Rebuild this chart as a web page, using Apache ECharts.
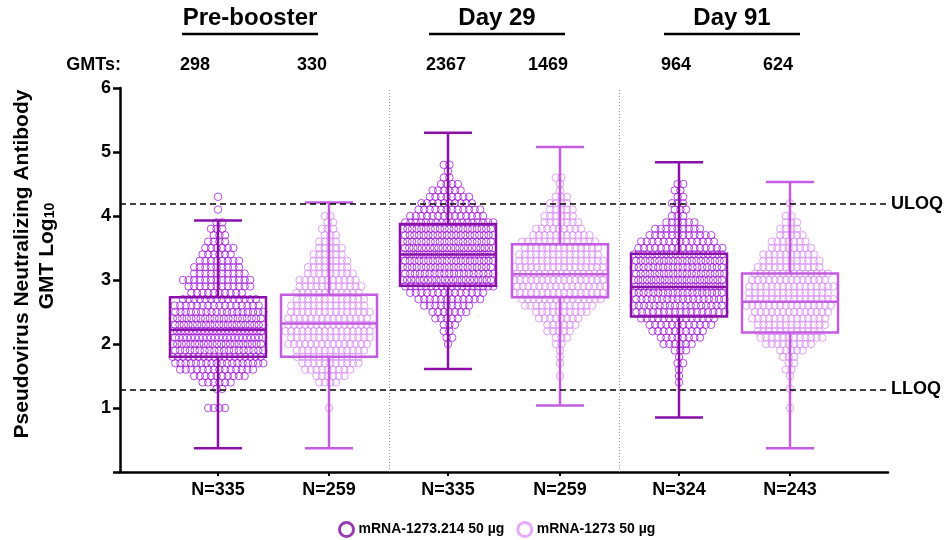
<!DOCTYPE html>
<html>
<head>
<meta charset="utf-8">
<title>Pseudovirus neutralizing antibody GMT</title>
<script src="https://cdn.jsdelivr.net/npm/echarts@6/dist/echarts.min.js"></script>
<style>
  html, body { margin: 0; padding: 0; background: #fff; }
  #chart { width: 947px; height: 540px; }
</style>
</head>
<body>
<div id="chart"></div>
<script>
// log10 titre levels the dots sit on (0.1 wide rows)
const levels = [1.0, 1.1, 1.2, 1.3, 1.4, 1.5, 1.6, 1.7, 1.8, 1.9,
  2.0, 2.1, 2.2, 2.3, 2.4, 2.5, 2.6, 2.7, 2.8, 2.9,
  3.0, 3.1, 3.2, 3.3, 3.4, 3.5, 3.6, 3.7, 3.8, 3.9,
  4.0, 4.1, 4.2, 4.3, 4.4, 4.5, 4.6, 4.7, 4.8, 4.9]

// participants per row
const preDark = [4, 0, 0, 2, 6, 10, 14, 18, 18, 19, 21, 23, 23, 21, 20, 18, 16, 14, 10, 12,
  13, 10, 9, 8, 6, 6, 4, 3, 3, 2, 0, 1, 0, 1, 0, 0, 0, 0, 0, 0]
const preLight = [1, 0, 0, 0, 4, 6, 9, 11, 12, 13, 15, 15, 16, 16, 15, 15, 14, 13, 12, 12,
  11, 9, 8, 7, 6, 5, 4, 3, 3, 2, 2, 0, 0, 0, 0, 0, 0, 0, 0, 0]
const d29Dark = [0, 0, 0, 0, 0, 0, 0, 0, 0, 0, 1, 2, 2, 3, 5, 7, 9, 12, 14, 18,
  22, 19, 20, 20, 22, 22, 20, 20, 20, 18, 14, 12, 10, 8, 6, 4, 2, 1, 2, 0]
const d29Light = [0, 0, 0, 0, 0, 1, 0, 1, 1, 1, 2, 3, 5, 6, 8, 10, 13, 15, 17, 17,
  17, 17, 17, 16, 15, 14, 14, 11, 9, 7, 6, 5, 4, 3, 1, 1, 2, 0, 0, 0]
const d91Dark = [0, 0, 0, 0, 1, 1, 1, 2, 1, 3, 6, 8, 10, 12, 14, 17, 18, 18, 19, 21,
  21, 20, 19, 20, 20, 16, 14, 12, 9, 6, 3, 3, 3, 2, 2, 2, 0, 0, 0, 0]
const d91Light = [1, 0, 0, 1, 0, 1, 2, 2, 3, 5, 9, 12, 12, 13, 14, 14, 16, 16, 15, 16,
  14, 14, 12, 11, 10, 8, 7, 5, 4, 3, 2, 0, 1, 0, 0, 0, 0, 0, 0, 0]

// box plots, in the order Pre dark, Pre light, D29 dark, D29 light, D91 dark, D91 light
const boxMin = [0.37, 0.37, 1.61, 1.04, 0.85, 0.37]
const boxQ1 = [1.80, 1.80, 2.91, 2.73, 2.43, 2.18]
const boxMed = [2.22, 2.32, 3.40, 3.09, 2.89, 2.66]
const boxQ3 = [2.73, 2.77, 3.875, 3.56, 3.41, 3.10]
const boxMax = [3.93, 4.21, 5.30, 5.08, 4.84, 4.53]

const gmts = [298, 330, 2367, 1469, 964, 624]
const nCounts = [335, 259, 335, 259, 324, 243]
const visits = ['Pre-booster', 'Day 29', 'Day 91']
const limitValues = [4.19, 1.29]
const limitNames = ['ULOQ', 'LLOQ']
const seriesNames = ['mRNA-1273.214 50 µg', 'mRNA-1273 50 µg']

// layout (x in px from the y axis)
const xCenters = [98, 209, 328, 440, 559, 670]
const separators = [269, 499]
const gmtX = [195, 312, 446, 548, 676, 778]
const visitX = [250, 497, 732]
const visitLine = [[182, 318], [429, 565], [664, 800]]

const darkDot = '#A21BDA'
const darkBox = '#8A10A8'
const lightDot = '#D88AF2'
const lightBox = '#C45CE2'
const font = 'Arial, "Liberation Sans", sans-serif'

function dots(counts, cx) {
  const out = []
  counts.forEach((n, i) => {
    if (!n) return
    const step = n > 1 ? Math.min(5.6, 88 / (n - 1)) : 0
    const shift = n > 1 ? (i % 2 ? step / 4 : -step / 4) : 0
    for (let k = 0; k < n; k++) {
      out.push([cx + (k - (n - 1) / 2) * step + shift, levels[i]])
    }
  })
  return out
}

const darkData = [].concat(dots(preDark, xCenters[0]), dots(d29Dark, xCenters[2]), dots(d91Dark, xCenters[4]))
const lightData = [].concat(dots(preLight, xCenters[1]), dots(d29Light, xCenters[3]), dots(d91Light, xCenters[5]))
const boxData = xCenters.map((x, i) => [x, boxMin[i], boxQ1[i], boxMed[i], boxQ3[i], boxMax[i], i])

const bold = { fontFamily: font, fontWeight: 'bold', fill: '#000' }

const graphics = []
visits.forEach((v, i) => {
  graphics.push({ type: 'text', x: visitX[i], y: 18, style: Object.assign({ text: v, fontSize: 24, textAlign: 'center', textVerticalAlign: 'middle' }, bold) })
  graphics.push({ type: 'line', shape: { x1: visitLine[i][0], y1: 34, x2: visitLine[i][1], y2: 34 }, style: { stroke: '#000', lineWidth: 2.5 } })
})
graphics.push({ type: 'text', x: 121, y: 65, style: Object.assign({ text: 'GMTs:', fontSize: 18, textAlign: 'right', textVerticalAlign: 'middle' }, bold) })
gmts.forEach((g, i) => {
  graphics.push({ type: 'text', x: gmtX[i], y: 65, style: Object.assign({ text: String(g), fontSize: 18, textAlign: 'center', textVerticalAlign: 'middle' }, bold) })
})
graphics.push({ type: 'text', x: 22, y: 264, rotation: Math.PI / 2, style: Object.assign({ text: 'Pseudovirus Neutralizing Antibody', fontSize: 21, textAlign: 'center', textVerticalAlign: 'middle' }, bold) })
graphics.push({
  type: 'text', x: 47, y: 256, rotation: Math.PI / 2,
  style: {
    text: '{a|GMT Log}{b|10}', textAlign: 'center', textVerticalAlign: 'middle', fontWeight: 'bold',
    rich: {
      a: { fontSize: 21, fontWeight: 'bold', fill: '#000', fontFamily: font },
      b: { fontSize: 14, fontWeight: 'bold', fill: '#000', fontFamily: font, verticalAlign: 'bottom' }
    }
  }
})

const chart = echarts.init(document.getElementById('chart'))
chart.setOption({
  animation: false,
  textStyle: { fontFamily: font },
  grid: { left: 120, right: 59, top: 88, bottom: 68, containLabel: false },
  legend: {
    left: 333,
    top: 516,
    itemWidth: 14,
    itemHeight: 14,
    itemGap: 12,
    textStyle: { fontSize: 14, fontWeight: 'bold', color: '#000' },
    data: [
      { name: seriesNames[0], icon: 'circle', itemStyle: { color: 'rgba(0,0,0,0)', borderColor: '#7D0C9E', borderWidth: 3 } },
      { name: seriesNames[1], icon: 'circle', itemStyle: { color: 'rgba(0,0,0,0)', borderColor: '#E394F7', borderWidth: 3 } }
    ]
  },
  xAxis: {
    type: 'value',
    min: 0,
    max: 768,
    splitLine: { show: false },
    axisLine: { show: true, lineStyle: { color: '#000', width: 2.5 } },
    axisTick: { show: true, customValues: xCenters, length: 4, lineStyle: { color: '#000', width: 2 } },
    axisLabel: {
      customValues: xCenters,
      margin: 9,
      fontSize: 18,
      fontWeight: 'bold',
      color: '#000',
      formatter: v => 'N=' + nCounts[xCenters.indexOf(v)]
    }
  },
  yAxis: {
    type: 'value',
    min: 0,
    max: 6,
    interval: 1,
    splitLine: { show: false },
    axisLine: { show: true, lineStyle: { color: '#000', width: 2.5 } },
    axisTick: { show: true, length: 7, lineStyle: { color: '#000', width: 2.5 } },
    axisLabel: {
      margin: 9,
      fontSize: 18,
      fontWeight: 'bold',
      color: '#000',
      formatter: v => (v === 0 ? '' : v)
    }
  },
  graphic: graphics,
  series: [
    {
      name: seriesNames[0],
      type: 'scatter',
      symbol: 'circle',
      symbolSize: 7.5,
      z: 2,
      silent: true,
      itemStyle: { color: 'rgba(0,0,0,0)', borderColor: darkDot, borderWidth: 1 },
      data: darkData
    },
    {
      name: seriesNames[1],
      type: 'scatter',
      symbol: 'circle',
      symbolSize: 7.5,
      z: 2,
      silent: true,
      itemStyle: { color: 'rgba(0,0,0,0)', borderColor: lightDot, borderWidth: 1 },
      data: lightData
    },
    {
      type: 'custom',
      z: 3,
      silent: true,
      encode: { x: 0, y: [1, 2, 3, 4, 5] },
      data: boxData,
      renderItem(params, api) {
        const x = api.value(0)
        const color = api.value(6) % 2 ? lightBox : darkBox
        const pMin = api.coord([x, api.value(1)])
        const pQ1 = api.coord([x, api.value(2)])
        const pMed = api.coord([x, api.value(3)])
        const pQ3 = api.coord([x, api.value(4)])
        const pMax = api.coord([x, api.value(5)])
        const cx = pMin[0]
        const half = 48
        const cap = 24
        const st = { stroke: color, lineWidth: 2.5, fill: null }
        return {
          type: 'group',
          children: [
            { type: 'line', shape: { x1: cx, y1: pMin[1], x2: cx, y2: pQ1[1] }, style: st },
            { type: 'line', shape: { x1: cx, y1: pQ3[1], x2: cx, y2: pMax[1] }, style: st },
            { type: 'line', shape: { x1: cx - cap, y1: pMin[1], x2: cx + cap, y2: pMin[1] }, style: st },
            { type: 'line', shape: { x1: cx - cap, y1: pMax[1], x2: cx + cap, y2: pMax[1] }, style: st },
            { type: 'rect', shape: { x: cx - half, y: pQ3[1], width: half * 2, height: pQ1[1] - pQ3[1] }, style: { stroke: color, lineWidth: 2.5, fill: 'none' } },
            { type: 'line', shape: { x1: cx - half, y1: pMed[1], x2: cx + half, y2: pMed[1] }, style: st }
          ]
        }
      },
      markLine: {
        silent: true,
        symbol: 'none',
        data: [
          { xAxis: separators[0], lineStyle: { color: '#999', width: 1, type: [1, 2] }, label: { show: false } },
          { xAxis: separators[1], lineStyle: { color: '#999', width: 1, type: [1, 2] }, label: { show: false } },
          ...limitValues.map((v, i) => ({
            yAxis: v,
            lineStyle: { color: '#000', width: 1.5, type: [6, 4] },
            label: { show: true, position: 'end', formatter: limitNames[i], fontSize: 18, fontWeight: 'bold', color: '#000', distance: 3 }
          }))
        ]
      }
    }
  ]
})
</script>
</body>
</html>
